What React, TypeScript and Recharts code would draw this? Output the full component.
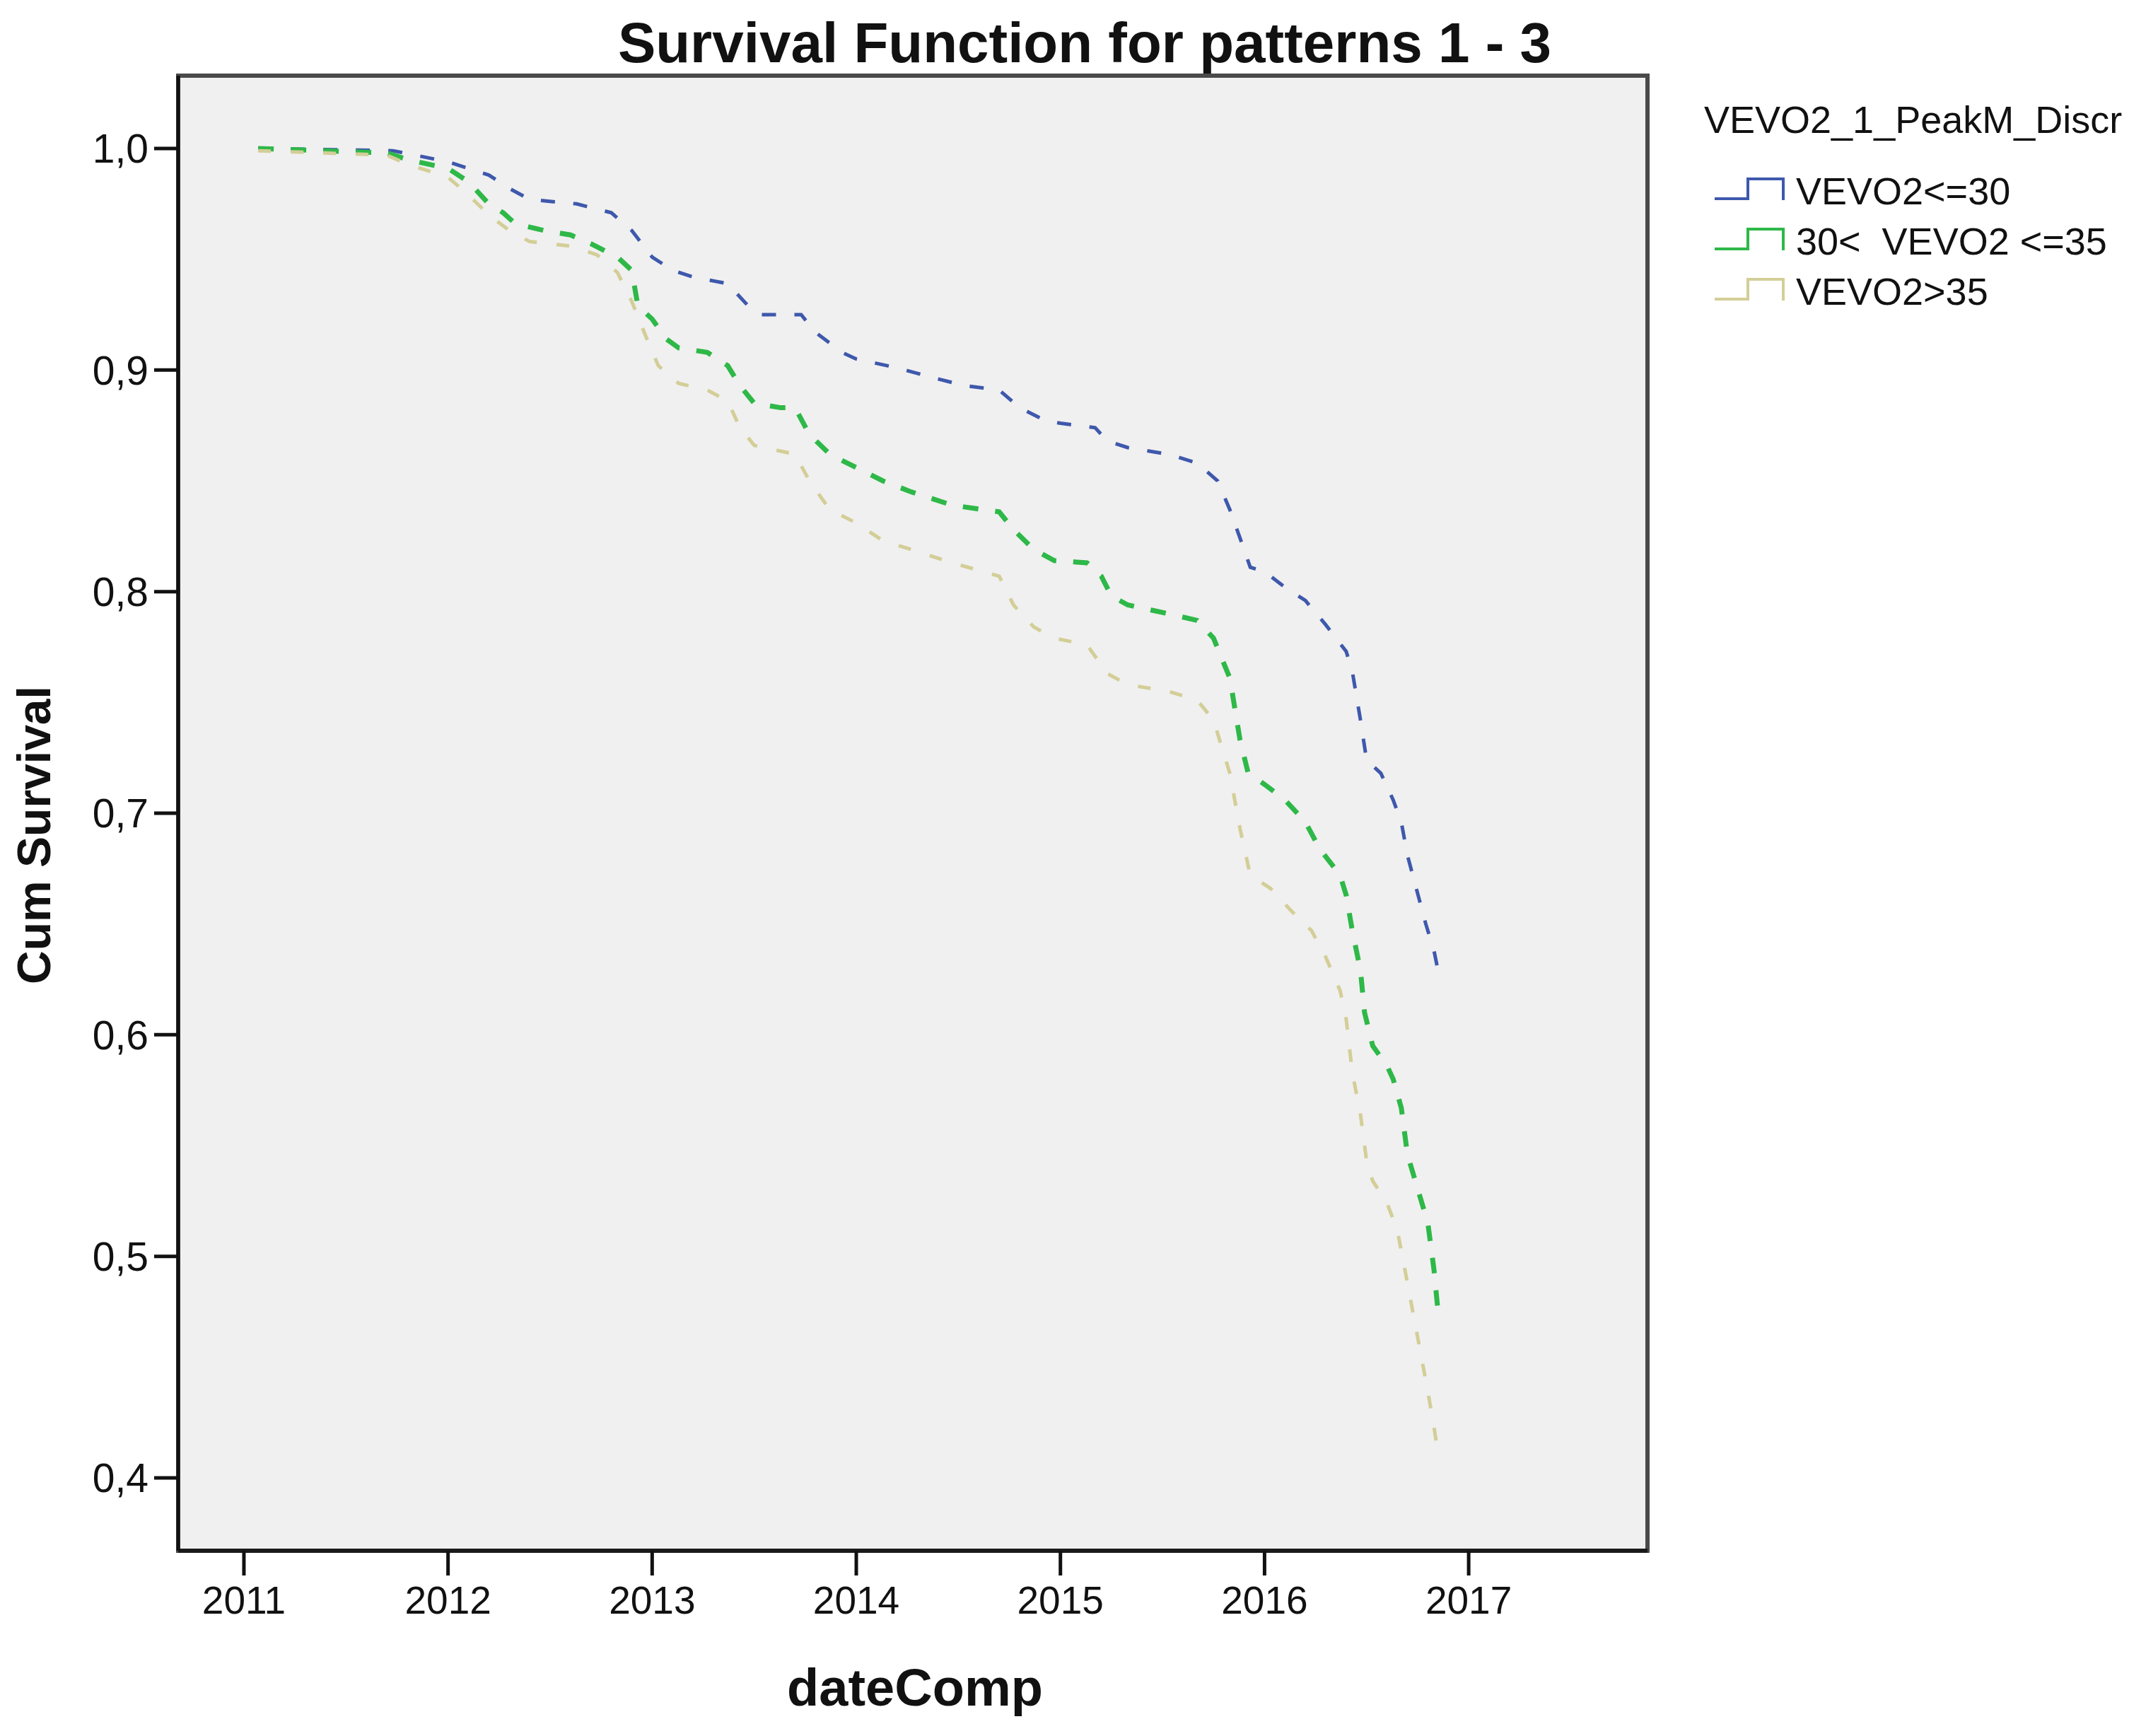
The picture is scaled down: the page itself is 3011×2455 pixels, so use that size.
import React from 'react';
import { LineChart, Line, XAxis, YAxis, ReferenceArea, Legend } from 'recharts';

// Kaplan-Meier curves (time in years, cumulative survival)
const lowTimes = [2011.07, 2011.73, 2012.0, 2012.2, 2012.3, 2012.4, 2012.63, 2012.8, 2012.9, 2013.0, 2013.1, 2013.2, 2013.37, 2013.47, 2013.53, 2013.73, 2013.8, 2013.93, 2014.0, 2014.2, 2014.4, 2014.53, 2014.7, 2014.8, 2014.93, 2015.0, 2015.17, 2015.23, 2015.33, 2015.53, 2015.67, 2015.77, 2015.83, 2015.9, 2015.93, 2016.0, 2016.1, 2016.2, 2016.3, 2016.4, 2016.43, 2016.47, 2016.5, 2016.57, 2016.63, 2016.67, 2016.7, 2016.79, 2016.83, 2016.85];
const lowSurv = [1.0, 0.999, 0.994, 0.988, 0.982, 0.977, 0.975, 0.971, 0.963, 0.951, 0.945, 0.942, 0.939, 0.929, 0.925, 0.925, 0.917, 0.908, 0.905, 0.901, 0.896, 0.893, 0.891, 0.883, 0.877, 0.876, 0.874, 0.868, 0.865, 0.862, 0.858, 0.85, 0.837, 0.819, 0.811, 0.809, 0.802, 0.796, 0.785, 0.773, 0.764, 0.742, 0.724, 0.718, 0.706, 0.696, 0.681, 0.65, 0.638, 0.629];

const midTimes = [2011.07, 2011.7, 2011.8, 2012.0, 2012.1, 2012.2, 2012.27, 2012.33, 2012.47, 2012.6, 2012.7, 2012.83, 2012.9, 2012.93, 2013.0, 2013.07, 2013.13, 2013.27, 2013.37, 2013.43, 2013.5, 2013.63, 2013.7, 2013.77, 2013.87, 2014.0, 2014.13, 2014.27, 2014.47, 2014.7, 2014.77, 2014.87, 2014.97, 2015.13, 2015.2, 2015.25, 2015.33, 2015.53, 2015.67, 2015.75, 2015.83, 2015.88, 2015.92, 2016.0, 2016.1, 2016.2, 2016.27, 2016.37, 2016.4, 2016.43, 2016.47, 2016.49, 2016.53, 2016.6, 2016.63, 2016.67, 2016.7, 2016.8, 2016.83, 2016.85];
const midSurv = [1.0, 0.998, 0.995, 0.991, 0.985, 0.975, 0.971, 0.966, 0.963, 0.961, 0.957, 0.951, 0.945, 0.929, 0.923, 0.914, 0.91, 0.908, 0.902, 0.893, 0.885, 0.883, 0.883, 0.871, 0.862, 0.856, 0.85, 0.845, 0.839, 0.836, 0.828, 0.819, 0.814, 0.813, 0.807, 0.798, 0.794, 0.79, 0.787, 0.779, 0.761, 0.733, 0.718, 0.713, 0.706, 0.696, 0.684, 0.672, 0.663, 0.647, 0.629, 0.61, 0.595, 0.586, 0.58, 0.567, 0.546, 0.515, 0.494, 0.475];

const highTimes = [2011.07, 2011.7, 2011.8, 2012.0, 2012.1, 2012.2, 2012.3, 2012.4, 2012.6, 2012.73, 2012.83, 2012.9, 2012.97, 2013.03, 2013.13, 2013.27, 2013.37, 2013.43, 2013.5, 2013.6, 2013.7, 2013.77, 2013.87, 2014.0, 2014.13, 2014.27, 2014.47, 2014.7, 2014.77, 2014.87, 2014.97, 2015.13, 2015.23, 2015.33, 2015.53, 2015.67, 2015.75, 2015.83, 2015.88, 2015.93, 2016.03, 2016.13, 2016.23, 2016.3, 2016.37, 2016.4, 2016.43, 2016.47, 2016.5, 2016.53, 2016.6, 2016.65, 2016.7, 2016.8, 2016.83, 2016.85];
const highSurv = [0.999, 0.997, 0.993, 0.987, 0.979, 0.970, 0.963, 0.958, 0.956, 0.952, 0.944, 0.931, 0.915, 0.902, 0.894, 0.891, 0.886, 0.874, 0.866, 0.864, 0.862, 0.85, 0.837, 0.831, 0.823, 0.819, 0.813, 0.807, 0.794, 0.784, 0.779, 0.776, 0.763, 0.758, 0.755, 0.751, 0.742, 0.718, 0.693, 0.672, 0.666, 0.656, 0.647, 0.635, 0.62, 0.607, 0.583, 0.564, 0.543, 0.534, 0.524, 0.512, 0.488, 0.439, 0.423, 0.411];

const yearTicks = [2011, 2012, 2013, 2014, 2015, 2016, 2017];
const survTicks = [0.4, 0.5, 0.6, 0.7, 0.8, 0.9, 1.0];
const X_DOMAIN: [number, number] = [2010.678, 2017.876];
const Y_DOMAIN: [number, number] = [0.36713, 1.03287];

const toRows = (ts: number[], ss: number[]) => ts.map((t, i) => ({ t, s: ss[i] }));

const series = [
  { name: 'VEVO2<=30', color: '#3E58AC', width: 5, dash: '20 26', data: toRows(lowTimes, lowSurv) },
  { name: '30<  VEVO2 <=35', color: '#2EB848', width: 7, dash: '22 24', data: toRows(midTimes, midSurv) },
  { name: 'VEVO2>35', color: '#D3CE97', width: 5, dash: '18 28', data: toRows(highTimes, highSurv) },
];

const FONT = '"Liberation Sans", Arial, sans-serif';

const renderLegend = () => (
  <svg width={600} height={340} style={{ display: 'block', fontFamily: FONT }}>
    <text x={2} y={80} fontSize={54} fill="#111">VEVO2_1_PeakM_Discr</text>
    {series.map((s, i) => {
      const cy = 162 + i * 71;
      return (
        <g key={s.name}>
          <path d={`M17,${cy + 11}H64V${cy - 17}H114V${cy + 13}`} stroke={s.color} strokeWidth={4} fill="none" />
          <text x={132} y={cy + 19} fontSize={54} fill="#111" style={{ whiteSpace: 'pre' }}>{s.name}</text>
        </g>
      );
    })}
  </svg>
);

export default function App() {
  return (
    <div style={{ position: 'relative', width: 3003, height: 2447, background: '#fff', fontFamily: FONT }}>
      <LineChart width={3003} height={2447} margin={{ top: 99, right: 681, bottom: 62, left: 44 }}>
        <ReferenceArea
          x1={X_DOMAIN[0]} x2={X_DOMAIN[1]} y1={Y_DOMAIN[0]} y2={Y_DOMAIN[1]}
          fill="#f0f0f0" fillOpacity={1} stroke="#4a4a4a" strokeWidth={6}
        />
        <XAxis
          type="number" dataKey="t" domain={X_DOMAIN} ticks={yearTicks} allowDataOverflow
          height={200} tickSize={35} tickMargin={15}
          axisLine={{ stroke: '#1a1a1a', strokeWidth: 6 }}
          tickLine={{ stroke: '#111', strokeWidth: 5 }}
          tick={{ fill: '#111', fontSize: 55, fontFamily: FONT }}
        />
        <YAxis
          type="number" dataKey="s" domain={Y_DOMAIN} ticks={survTicks} allowDataOverflow
          width={200} tickSize={34} tickMargin={8}
          tickFormatter={(v: number) => v.toFixed(1).replace('.', ',')}
          axisLine={{ stroke: '#111', strokeWidth: 5 }}
          tickLine={{ stroke: '#111', strokeWidth: 5 }}
          tick={{ fill: '#111', fontSize: 57, fontFamily: FONT }}
        />
        {series.map((s) => (
          <Line
            key={s.name} data={s.data} dataKey="s" name={s.name} type="linear"
            stroke={s.color} strokeWidth={s.width} strokeDasharray={s.dash}
            dot={false} activeDot={false} isAnimationActive={false}
          />
        ))}
        <Legend
          layout="vertical" align="center" verticalAlign="middle" content={renderLegend}
          wrapperStyle={{ position: 'absolute', left: 2400, top: 100, width: 600 }}
        />
        <text x={1526} y={80} textAnchor="middle" fontSize={80} fontWeight="bold" fontFamily={FONT} fill="#111">
          Survival Function for patterns 1 - 3
        </text>
        <text
          x={40} y={1173} textAnchor="middle" dominantBaseline="central" fontSize={66} fontWeight="bold"
          fontFamily={FONT} fill="#111" transform="rotate(-90 40 1173)"
        >
          Cum Survival
        </text>
        <text x={1286} y={2404} textAnchor="middle" fontSize={74} fontWeight="bold" fontFamily={FONT} fill="#111">
          dateComp
        </text>
      </LineChart>
    </div>
  );
}
